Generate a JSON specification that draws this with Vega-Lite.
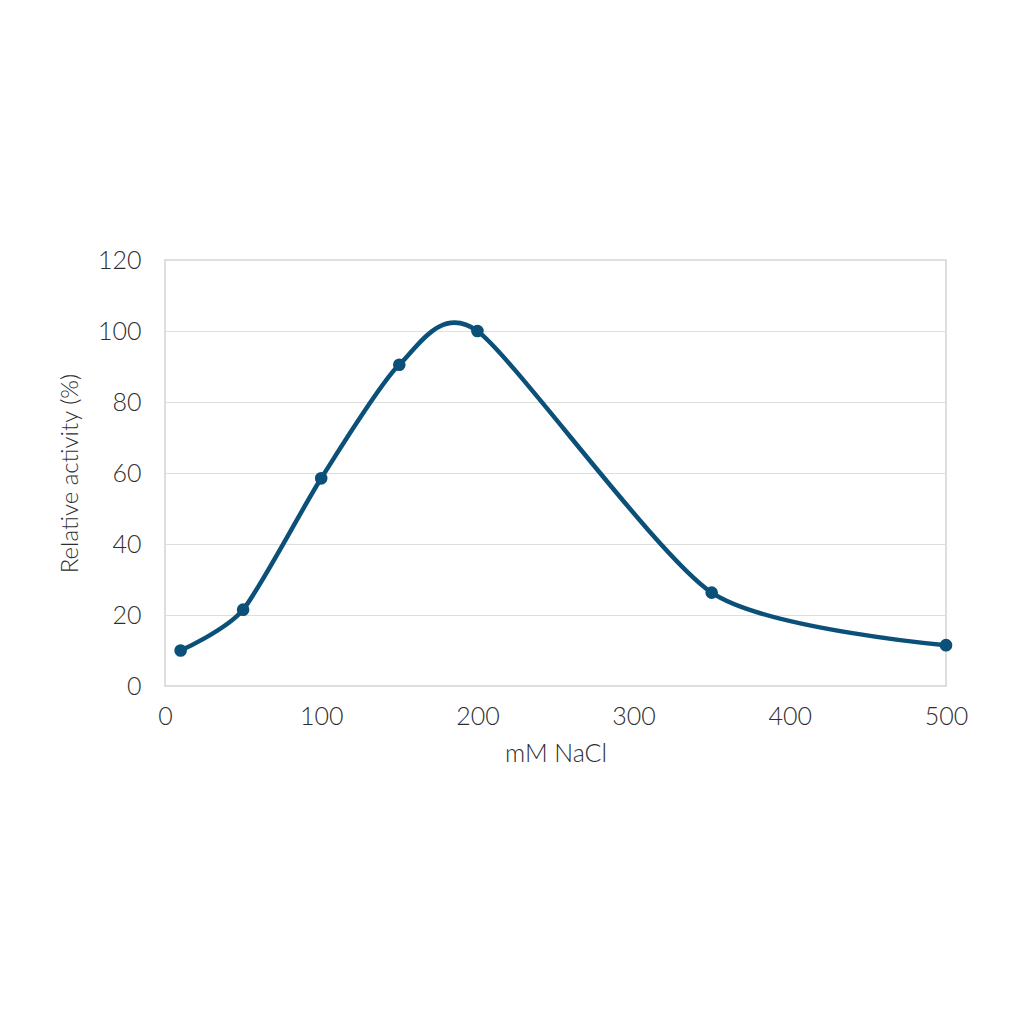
{
  "$schema": "https://vega.github.io/schema/vega-lite/v6.json",
  "width": 781,
  "height": 426,
  "autosize": {"type": "none"},
  "padding": {"left": 165, "top": 260, "right": 78, "bottom": 338},
  "background": "white",
  "config": {
    "font": "Lato",
    "view": {"stroke": "#d4d4d4", "strokeWidth": 1.5},
    "axis": {
      "domain": false,
      "ticks": false,
      "grid": true,
      "gridColor": "#dedede",
      "gridWidth": 1.2,
      "labelFont": "Lato",
      "labelFontSize": 25,
      "labelFontWeight": 300,
      "labelColor": "#2e2e2e",
      "labelFlush": false,
      "titleFont": "Lato",
      "titleFontSize": 24,
      "titleFontWeight": 300,
      "titleColor": "#2e2e2e"
    }
  },
  "data": {
    "values": [
      {"nacl": 10, "activity": 10},
      {"nacl": 50, "activity": 21.5},
      {"nacl": 100, "activity": 58.5},
      {"nacl": 150, "activity": 90.5},
      {"nacl": 200, "activity": 100},
      {"nacl": 350, "activity": 26.3},
      {"nacl": 500, "activity": 11.5}
    ]
  },
  "encoding": {
    "x": {
      "field": "nacl",
      "type": "quantitative",
      "title": "mM NaCl",
      "scale": {"domain": [0, 500], "nice": false},
      "axis": {"values": [0, 100, 200, 300, 400, 500], "grid": false, "labelPadding": 18, "titlePadding": 12, "titleFontSize": 25}
    },
    "y": {
      "field": "activity",
      "type": "quantitative",
      "title": "Relative activity (%)",
      "scale": {"domain": [0, 120], "nice": false},
      "axis": {"values": [0, 20, 40, 60, 80, 100, 120], "labelPadding": 24, "titlePadding": 15}
    }
  },
  "layer": [
    {
      "mark": {"type": "line", "interpolate": "cardinal", "tension": 0.3, "color": "#0b5078", "strokeWidth": 4.5}
    },
    {
      "mark": {"type": "point", "filled": true, "shape": "circle", "size": 160, "color": "#0b5078", "opacity": 1}
    }
  ]
}
